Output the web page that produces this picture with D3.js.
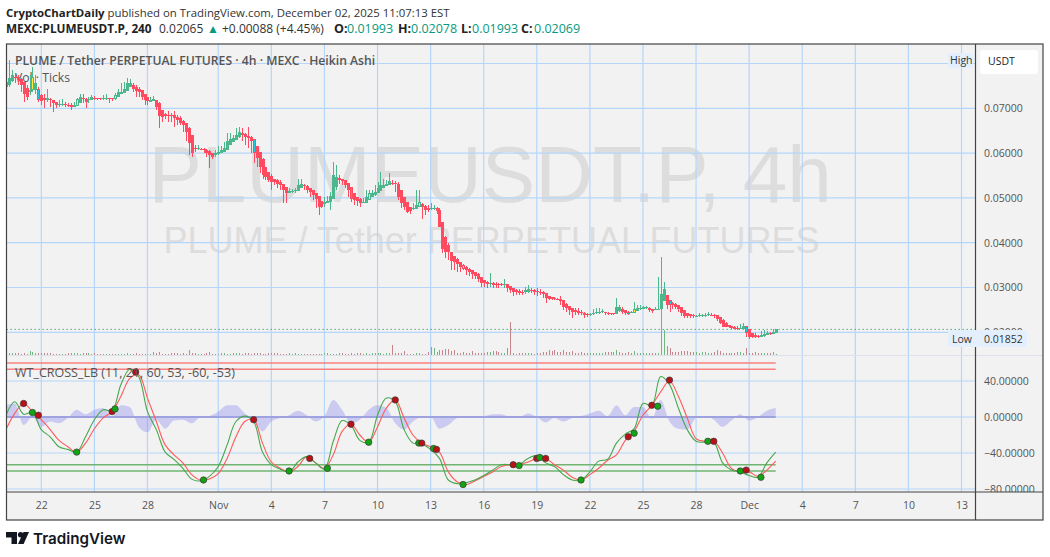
<!DOCTYPE html>
<html>
<head>
<meta charset="utf-8">
<title>PLUMEUSDT.P 4h</title>
<script src="https://cdn.jsdelivr.net/npm/d3@7"></script>
<style>
    body { margin: 0; background: #fff; }
    text { font-family: "Open Sans", sans-serif; }
    .axis text { font-size: 10.5px; fill: #555; font-family: "Open Sans", sans-serif; }
    .axis path { display: none; }
</style>
</head>
<body>
<div id="chart"></div>
<script>
// prices are in 1/1000 USDT, one entry per 4h Heikin Ashi bar, first bar 2025-10-20 00:00 UTC
const opens = [
    74.8,75.3,76.0,77.0,76.9,76.5,75.9,74.6,73.6,74.1,74.0,74.4,73.0,72.3,71.9,72.1,71.9,71.5,70.7,70.7,
    70.9,70.8,70.7,70.4,70.5,71.2,72.3,72.1,71.8,71.9,72.3,72.3,72.3,72.2,72.3,72.4,72.2,72.0,72.5,73.1,
    73.4,73.9,74.8,75.2,74.8,74.4,74.0,73.3,72.5,71.5,71.6,71.8,71.1,69.6,68.8,68.6,68.5,68.4,68.1,67.8,
    67.2,66.8,65.7,64.0,61.2,60.9,61.0,60.9,60.8,60.4,60.0,59.5,59.7,60.0,60.3,60.8,61.7,62.4,62.9,63.5,
    64.5,64.3,63.9,63.6,63.2,61.6,60.2,58.6,56.8,55.7,54.9,54.2,53.9,53.5,53.2,52.4,51.2,51.4,51.5,51.6,
    52.2,52.8,52.7,52.2,51.8,51.2,50.4,49.2,48.6,48.8,49.1,49.7,52.4,54.4,54.2,54.0,53.4,52.5,51.1,50.3,
    49.8,48.8,48.9,49.5,50.3,50.7,51.0,51.6,52.2,52.6,52.9,53.4,53.3,53.2,51.7,50.3,49.1,48.0,47.5,47.6,
    48.0,48.6,48.3,47.8,47.6,47.7,47.8,47.3,44.7,41.3,39.5,38.0,37.0,36.3,35.8,35.1,34.6,34.2,33.8,33.4,
    33.0,32.4,31.6,31.2,30.8,30.9,30.8,30.7,30.7,30.6,30.7,30.3,29.9,29.4,29.2,29.0,28.9,29.1,29.4,29.4,
    29.2,29.1,29.0,28.8,28.2,27.8,27.6,27.5,27.4,27.1,26.4,25.9,25.4,25.0,24.8,24.6,24.4,24.1,24.0,24.0,
    24.2,24.4,24.5,24.6,24.4,24.3,24.2,24.0,24.8,25.2,25.0,24.6,24.2,24.4,24.8,25.1,25.3,25.4,25.5,25.3,
    25.0,25.0,25.1,27.0,28.3,27.2,26.6,26.4,26.0,25.6,24.9,24.3,24.0,23.8,23.6,23.6,23.7,23.7,23.8,23.9,
    23.9,23.8,23.4,22.8,22.0,21.6,21.3,21.2,21.0,20.7,20.8,21.4,20.7,19.8,19.4,19.2,19.0,19.1,19.4,19.8,
    19.7,19.93
];
const closes = [
    75.9,76.7,77.4,76.7,76.3,75.2,73.3,72.6,74.1,76.9,75.6,71.8,71.7,71.8,72.2,71.8,71.1,70.7,70.9,70.9,
    70.7,70.7,70.2,70.7,72.0,72.6,72.0,71.5,72.0,72.6,72.2,72.2,72.1,72.4,72.4,72.0,72.0,73.0,73.7,73.7,
    74.4,75.6,75.6,74.4,73.9,73.7,72.6,71.8,71.7,71.8,72.0,70.4,68.2,68.0,68.2,68.4,68.2,67.9,67.4,66.7,
    66.3,64.8,62.2,60.1,61.1,61.1,60.9,60.6,60.1,59.6,59.1,60.0,60.3,60.7,61.1,62.6,63.1,63.3,64.1,64.8,
    64.1,63.5,63.3,62.6,60.0,58.9,57.0,55.1,54.7,54.1,53.6,53.6,53.2,52.9,51.7,51.1,51.6,51.6,51.7,52.9,
    53.1,52.6,51.7,51.4,50.6,49.7,48.0,48.0,49.1,49.4,50.4,55.1,54.7,54.1,53.8,52.9,51.7,49.7,49.5,49.4,
    48.9,49.0,50.1,51.0,51.0,51.4,52.1,52.9,52.9,53.1,53.8,53.1,53.1,50.1,48.8,47.9,46.9,47.1,47.7,48.4,
    49.1,48.0,47.3,47.4,47.8,47.8,47.1,43.5,38.5,38.0,37.9,36.0,35.6,35.3,34.5,34.1,33.8,33.5,33.0,32.6,
    31.8,30.9,30.9,30.8,31.0,30.6,30.6,30.6,30.6,30.8,29.8,29.4,29.0,28.9,28.8,28.9,29.4,29.6,29.3,29.0,
    29.0,28.9,28.6,27.6,27.5,27.5,27.4,27.3,26.9,25.7,25.4,25.0,24.6,24.5,24.4,24.2,23.9,23.9,24.1,24.4,
    24.6,24.6,24.7,24.2,24.1,24.0,24.0,25.6,25.6,24.6,24.2,24.0,24.5,25.3,25.4,25.5,25.6,25.7,25.0,24.7,
    25.1,25.2,28.5,29.6,26.1,26.0,26.1,25.7,25.1,24.2,23.7,23.7,23.6,23.6,23.7,23.8,23.8,23.9,24.0,23.8,
    23.6,23.0,22.1,21.2,21.2,21.1,21.0,20.8,20.7,21.0,21.3,19.9,18.9,19.0,19.0,19.0,19.3,19.7,19.9,19.7,
    20.0,20.69
];
const highs = [
    76.7,80.8,78.5,77.8,77.4,76.7,75.9,75.2,77.4,79.3,77.4,74.8,73.3,73.3,74.4,72.2,71.8,71.5,71.8,72.0,
    71.5,71.1,71.1,71.5,72.2,73.3,73.3,72.2,72.6,73.0,72.7,72.4,72.4,73.0,73.1,72.4,72.2,73.5,74.4,75.6,
    75.9,76.7,76.5,75.6,75.2,74.8,73.7,73.0,72.6,72.6,72.7,71.8,71.5,69.3,68.9,69.3,69.0,69.3,68.5,68.2,
    67.4,66.7,65.9,62.6,61.8,61.8,61.1,61.1,60.9,60.6,60.1,60.7,61.5,61.5,62.4,64.4,64.4,64.1,65.6,65.9,
    65.6,64.4,65.9,63.8,62.2,61.1,58.9,58.8,55.5,55.1,55.3,54.3,54.3,54.0,52.9,52.1,52.1,52.0,52.3,54.3,
    54.3,53.2,52.9,52.1,51.4,51.0,49.9,48.8,50.1,50.4,51.4,58.1,57.3,55.1,54.3,54.0,52.9,52.1,51.0,50.1,
    49.9,49.9,51.7,51.7,51.7,52.9,53.6,55.8,54.3,54.0,55.5,54.0,53.8,53.6,51.7,49.9,48.0,48.0,48.8,51.7,
    51.7,48.8,48.4,48.4,48.9,48.4,47.9,47.7,44.7,41.4,39.9,37.6,36.9,36.5,35.4,35.3,34.7,34.3,33.9,33.5,
    33.2,32.0,31.7,31.5,33.2,31.3,31.3,30.9,31.1,32.0,30.6,30.4,29.8,29.6,29.6,29.4,30.2,30.6,29.8,29.6,
    29.8,29.6,29.3,28.7,28.0,27.8,27.8,27.7,28.0,26.9,26.5,25.9,25.4,25.4,25.4,25.0,24.6,24.4,24.4,25.1,
    25.4,25.4,25.1,24.6,24.5,24.4,24.4,27.6,26.1,25.6,25.0,24.8,24.7,26.8,26.1,26.1,25.9,25.9,25.7,25.3,
    25.6,32.4,36.9,31.3,28.1,27.2,26.8,26.5,26.1,25.7,24.8,24.4,24.1,24.1,23.9,24.4,24.1,24.4,24.5,24.2,
    24.1,23.9,23.5,22.9,22.2,21.6,21.4,21.3,21.3,21.9,22.0,21.4,20.7,19.9,19.8,19.4,20.2,20.5,20.2,20.1,
    20.7,20.78
];
const lows = [
    74.8,74.8,75.9,75.6,75.2,73.7,71.5,71.8,73.0,73.7,73.3,71.5,70.7,70.0,71.5,70.4,69.2,70.0,70.4,70.5,
    70.4,70.4,69.6,70.4,70.5,71.8,71.1,70.0,71.1,71.8,71.8,71.8,71.8,71.8,71.8,71.1,71.7,71.8,73.0,73.3,
    73.7,74.4,74.7,73.7,72.6,72.6,71.8,70.7,70.7,71.5,71.6,69.6,65.6,67.0,67.6,67.0,67.0,65.9,66.3,66.3,
    64.8,62.6,59.6,59.2,60.3,60.6,60.6,60.0,59.2,56.6,58.6,59.1,59.6,60.0,60.3,61.5,62.2,62.6,62.9,63.3,
    62.6,61.8,61.1,60.0,57.7,57.0,55.5,54.3,54.0,53.6,51.7,52.9,52.1,51.7,48.8,48.9,51.0,51.1,51.0,51.7,
    52.1,51.7,51.0,50.3,49.5,47.7,46.2,47.7,48.0,48.8,47.3,49.9,51.7,53.1,52.9,52.1,50.3,49.1,48.4,48.2,
    48.0,48.8,48.9,49.5,50.6,50.4,51.0,51.9,52.1,52.6,52.9,52.9,51.4,49.5,47.7,47.3,46.7,46.5,47.3,47.7,
    48.0,45.4,46.2,46.9,47.3,47.3,46.5,43.5,37.6,36.5,36.2,33.9,33.9,33.5,33.5,33.8,32.8,32.6,32.0,32.0,
    31.3,30.2,30.2,30.0,30.2,30.0,30.0,29.8,30.4,30.0,29.0,28.7,28.1,28.3,28.3,28.3,28.6,28.7,28.8,28.3,
    28.1,28.3,27.6,26.5,27.1,27.2,27.1,27.1,26.1,25.0,24.6,23.9,23.1,23.9,23.9,23.9,23.1,23.5,23.7,23.8,
    24.0,24.0,24.2,23.9,23.8,23.8,23.8,24.1,24.5,24.1,23.9,23.8,24.2,24.5,24.8,25.0,25.1,25.1,24.5,24.4,
    25.0,25.0,25.0,27.2,25.1,24.6,25.3,25.1,24.6,23.6,23.3,23.3,23.2,23.3,23.5,23.5,23.5,23.5,23.6,23.6,
    23.3,22.6,21.8,21.1,21.1,20.9,20.7,20.7,20.5,20.7,20.8,18.9,18.52,18.7,18.8,18.7,19.0,19.0,19.5,19.5,
    19.6,19.93
];
// tick counts in thousands, same bars
const volumes = [
    1,2,2,2,2,1,2,1,4,3,2,2,2,2,2,2,1,1,1,1,1,2,2,2,2,1,2,2,2,1,2,1,1,1,1,1,1,1,1,1,
    1,2,1,1,2,1,1,1,1,1,3,2,3,1,1,1,2,2,2,1,2,1,5,2,2,1,1,1,2,3,1,1,1,2,2,1,1,2,2,2,
    1,2,2,1,2,2,2,1,1,2,2,2,2,1,1,1,2,1,2,1,1,1,1,1,1,1,1,1,2,2,1,1,1,2,2,1,1,2,1,2,
    2,1,2,1,2,2,2,2,1,2,2,10,2,2,2,4,1,1,1,2,2,1,1,3,8,7,3,5,5,6,6,4,5,2,2,3,2,2,4,2,
    2,2,2,3,3,4,4,3,2,2,7,33,2,1,2,2,2,2,2,1,2,2,3,3,5,4,5,3,3,5,3,3,4,2,2,3,2,2,2,2,
    2,2,2,3,3,3,3,5,3,2,2,3,2,4,2,2,2,2,2,2,2,2,45,25,9,7,3,3,3,4,4,4,3,3,3,2,3,3,2,2,
    3,5,4,2,2,2,2,2,3,3,2,7,2,2,3,2,2,2,2,2,3,1
];
const yellowBars = [9, 24, 37, 123, 140, 155, 213];
const cyanBars = [11, 84, 117, 132, 146, 211, 225, 251];
const priceTicks = [80, 70, 60, 50, 40, 30, 20];
const lastPrice = 20.65;

// WT_CROSS_LB values read every third bar
const wtStep = 3;
const wt1 = [
    2,17,3,5,-14,-22,-33,-36,-39,-22,-3,8,7,36,53,45,6,-14,-39,-47,-57,-69,
    -71,-66,-55,-31,-5,1,-5,-39,-53,-58,-61,-50,-44,-51,-58,-27,-4,-9,-26,-28,
    2,21,17,-14,-29,-30,-36,-46,-70,-74,-73,-70,-65,-59,-53,-53,-53,-46,-43,-51,
    -55,-64,-70,-70,-61,-49,-47,-29,-19,-13,15,13,45,36,10,-14,-27,-28,-28,-51,
    -59,-61,-65,-67,-51,-39
];
const wt2 = [
    -14,4,15,6,-3,-14,-26,-33,-39,-29,-13,-1,6,23,43,47,21,-5,-31,-42,-51,-64,
    -70,-69,-63,-46,-22,-5,-3,-29,-50,-57,-61,-55,-44,-51,-57,-42,-16,-8,-20,-28,
    -11,10,19,-1,-20,-29,-33,-39,-61,-72,-75,-71,-66,-61,-55,-53,-53,-50,-46,-46,
    -53,-59,-67,-70,-64,-57,-48,-42,-26,-16,2,13,28,40,23,-1,-24,-27,-27,-40,
    -57,-61,-61,-66,-59,-49
];
const wtDiff = [
    13,15,-9,0,-11,-5,-7,-1,8,3,8,10,0,13,11,-11,-17,-3,-13,-4,-3,-7,
    0,1,6,13,13,4,-3,-16,-5,-1,2,7,2,-5,1,19,8,-7,-3,8,
    13,10,-7,-14,-5,0,0,-13,-9,-1,1,1,1,3,3,0,0,4,0,-6,
    -1,-5,-1,1,4,7,1,13,2,11,11,-2,19,-5,-13,-14,-1,1,-3,-11,
    -4,3,-4,0,7,10
];
const crossBars = [6,9,11,24,36,37,44,67,84,96,103,109,117,123,132,140,141,145,146,155,172,174,180,181,183,195,211,213,219,221,225,238,240,249,251,256];
const crossValues = [15,5,2,-39,6,9,50,-70,-3,-60,-46,-57,-8,-28,19,-29,-29,-35,-36,-75,-53,-54,-46,-45,-46,-70,-22,-18,13,12,41,-27,-27,-60,-59,-67];
const crossUp = [0,1,0,1,0,1,0,1,0,1,0,1,0,1,0,1,0,1,0,1,0,1,0,1,0,1,0,1,0,1,0,1,0,1,0,1];
const wtLevels = [60, 53, -53, -60];
const wtTicks = [40, 0, -40, -80];

const firstBar = Date.UTC(2025, 9, 20);
const barMs = 4 * 3600 * 1000;
const timeTicks = ["2025-10-22","2025-10-25","2025-10-28","2025-11-01","2025-11-04","2025-11-07","2025-11-10","2025-11-13","2025-11-16","2025-11-19","2025-11-22","2025-11-25","2025-11-28","2025-12-01","2025-12-04","2025-12-07","2025-12-10","2025-12-13"];
const timeLabels = ["22","25","28","Nov","4","7","10","13","16","19","22","25","28","Dec","4","7","10","13"];

const frame = { left: 6.5, right: 1043, top: 44, bottom: 520, plotRight: 975.5, priceBottom: 355, wtTop: 356, wtBottom: 492 };
const green = "#4cb78c", red = "#ff4a60";

const svg = d3.select("#chart")
    .append("svg")
    .attr("width", 1050)
    .attr("height", 557);

const tickDates = timeTicks.map(d => new Date(d + "T00:00:00Z"));
const barDate = i => new Date(firstBar + i * barMs);

const x = d3.scaleUtc()
    .domain([tickDates[0], tickDates[tickDates.length - 1]])
    .range([41.3, 961.5]);
const yPrice = d3.scaleLinear().domain([20, 70]).range([332.3, 108.3]);
const yWt = d3.scaleLinear().domain([-80, 40]).range([489, 381]);
const yVol = d3.scaleLinear().domain([0, 45]).range([355, 310]);

svg.append("rect")
    .attr("x", frame.left).attr("y", frame.top)
    .attr("width", frame.right - frame.left).attr("height", frame.bottom - frame.top)
    .attr("fill", "#f2f2f2");

const defs = svg.append("defs");
defs.append("clipPath").attr("id", "price-clip").append("rect")
    .attr("x", frame.left).attr("y", frame.top)
    .attr("width", frame.plotRight - frame.left).attr("height", frame.priceBottom - frame.top);
defs.append("clipPath").attr("id", "wt-clip").append("rect")
    .attr("x", frame.left).attr("y", frame.wtTop)
    .attr("width", frame.plotRight - frame.left).attr("height", frame.wtBottom - frame.wtTop);
defs.append("clipPath").attr("id", "axis-clip").append("rect")
    .attr("x", frame.plotRight).attr("y", frame.top)
    .attr("width", frame.right - frame.plotRight).attr("height", frame.wtBottom - frame.top);

// watermark
svg.append("text")
    .attr("x", 490).attr("y", 202)
    .attr("text-anchor", "middle")
    .style("font-family", '"Liberation Sans", sans-serif')
    .style("font-size", "80px")
    .attr("fill", "#dddddd")
    .text("PLUMEUSDT.P, 4h");
svg.append("text")
    .attr("x", 491.5).attr("y", 253)
    .attr("text-anchor", "middle")
    .style("font-family", '"Liberation Sans", sans-serif')
    .style("font-size", "36px")
    .attr("fill", "#dddddd")
    .text("PLUME / Tether PERPETUAL FUTURES");

// grid
const gridColor = "#b5d6fb";
const grid = svg.append("g").attr("fill", "none").attr("stroke", gridColor).attr("stroke-width", 1.2);
grid.selectAll(".v1").data(tickDates).enter().append("line")
    .attr("x1", d => x(d)).attr("x2", d => x(d))
    .attr("y1", frame.top).attr("y2", frame.priceBottom);
grid.selectAll(".v2").data(tickDates).enter().append("line")
    .attr("x1", d => x(d)).attr("x2", d => x(d))
    .attr("y1", frame.wtTop).attr("y2", frame.wtBottom);
grid.selectAll(".h1").data(priceTicks).enter().append("line")
    .attr("x1", frame.left).attr("x2", frame.plotRight)
    .attr("y1", d => yPrice(d)).attr("y2", d => yPrice(d));
grid.selectAll(".h2").data(wtTicks).enter().append("line")
    .attr("x1", frame.left).attr("x2", frame.plotRight)
    .attr("y1", d => yWt(d)).attr("y2", d => yWt(d));

// legends sit under the candles
svg.append("text").attr("x", 15).attr("y", 65)
    .style("font-size", "12.2px").style("font-weight", 600).attr("fill", "#555")
    .text("PLUME / Tether PERPETUAL FUTURES · 4h · MEXC · Heikin Ashi");
svg.append("text").attr("x", 15).attr("y", 82)
    .style("font-size", "12.2px").attr("fill", "#555")
    .text("Vol · Ticks");

const bars = opens.map((o, i) => ({
    i, date: barDate(i), open: o, close: closes[i], high: highs[i], low: lows[i], vol: volumes[i], up: closes[i] > o
}));

const pricePane = svg.append("g").attr("clip-path", "url(#price-clip)");

pricePane.selectAll(".vol")
    .data(bars)
    .enter()
    .append("rect")
    .attr("class", "vol")
    .attr("x", d => Math.round(x(d.date)))
    .attr("width", 1)
    .attr("y", d => yVol(d.vol))
    .attr("height", d => yVol(0) - yVol(d.vol))
    .attr("fill", d => d.up ? "#6fb87f" : "#c58689")
    .attr("shape-rendering", "crispEdges");

pricePane.append("line")
    .attr("x1", frame.left).attr("x2", frame.plotRight)
    .attr("y1", yPrice(lastPrice)).attr("y2", yPrice(lastPrice))
    .attr("stroke", "#4cab82")
    .attr("stroke-dasharray", "1.5,2.5");

pricePane.selectAll(".wick")
    .data(bars)
    .enter()
    .append("rect")
    .attr("class", "wick")
    .attr("x", d => Math.round(x(d.date)))
    .attr("width", 1)
    .attr("y", d => yPrice(d.high))
    .attr("height", d => yPrice(d.low) - yPrice(d.high))
    .attr("fill", d => d.up ? green : red)
    .attr("shape-rendering", "crispEdges");

pricePane.selectAll(".body")
    .data(bars)
    .enter()
    .append("rect")
    .attr("class", "body")
    .attr("x", d => Math.round(x(d.date)) - 1)
    .attr("width", 3)
    .attr("y", d => yPrice(Math.max(d.open, d.close)))
    .attr("height", d => Math.max(1, Math.abs(yPrice(d.open) - yPrice(d.close))))
    .attr("fill", d => d.up ? green : red)
    .attr("shape-rendering", "crispEdges");

// a few candles carry a coloured fill
const marked = yellowBars.map(i => ({ bar: bars[i], fill: "#ffeb3b" }))
    .concat(cyanBars.map(i => ({ bar: bars[i], fill: "#26c6da" })));
pricePane.selectAll(".marked")
    .data(marked)
    .enter()
    .append("rect")
    .attr("class", "marked")
    .attr("x", d => Math.round(x(d.bar.date)))
    .attr("width", 1)
    .attr("y", d => yPrice(Math.max(d.bar.open, d.bar.close)) + 1)
    .attr("height", d => Math.max(1, Math.abs(yPrice(d.bar.open) - yPrice(d.bar.close)) - 2))
    .attr("fill", d => d.fill)
    .attr("shape-rendering", "crispEdges");

// WT pane
const wtPane = svg.append("g").attr("clip-path", "url(#wt-clip)");
const wtDate = k => barDate(k * wtStep);
const lineEnd = barDate(opens.length - 1);

wtPane.append("path")
    .datum(wtDiff)
    .attr("fill", "#7b7bf0")
    .attr("fill-opacity", 0.33)
    .attr("d", d3.area()
        .x((d, k) => x(wtDate(k)))
        .y0(yWt(0))
        .y1(d => yWt(d))
        .curve(d3.curveMonotoneX));

wtPane.append("line")
    .attr("x1", frame.left).attr("x2", x(lineEnd))
    .attr("y1", yWt(0)).attr("y2", yWt(0))
    .attr("stroke", "#9ea3df").attr("stroke-width", 1.8);

wtPane.selectAll(".level")
    .data(wtLevels)
    .enter()
    .append("line")
    .attr("class", "level")
    .attr("x1", frame.left).attr("x2", x(lineEnd))
    .attr("y1", d => yWt(d)).attr("y2", d => yWt(d))
    .attr("stroke", d => d > 0 ? "#f9807f" : "#6fb56f")
    .attr("stroke-width", 1.4);

svg.append("text").attr("x", 15).attr("y", 377)
    .style("font-size", "12.5px").attr("fill", "#555")
    .text("WT_CROSS_LB (11, 21, 60, 53, -60, -53)");

const wtLine = d3.line()
    .x((d, k) => x(wtDate(k)))
    .y(d => yWt(d))
    .curve(d3.curveCatmullRom);

wtPane.append("path").datum(wt2).attr("fill", "none").attr("stroke", "#ff5a5a").attr("stroke-width", 1.1).attr("d", wtLine);
wtPane.append("path").datum(wt1).attr("fill", "none").attr("stroke", "#45a84d").attr("stroke-width", 1.1).attr("d", wtLine);

wtPane.selectAll(".cross")
    .data(crossBars)
    .enter()
    .append("circle")
    .attr("class", "cross")
    .attr("cx", d => x(barDate(d)))
    .attr("cy", (d, i) => yWt(crossValues[i]))
    .attr("r", 3.2)
    .attr("fill", (d, i) => crossUp[i] ? "#12a512" : "#bb1017")
    .attr("stroke", "#3a3a3a")
    .attr("stroke-width", 0.7);

// axes
const axisCol = svg.append("g").attr("clip-path", "url(#axis-clip)");
axisCol.append("g")
    .attr("class", "axis")
    .attr("transform", `translate(${frame.plotRight},0)`)
    .call(d3.axisRight(yPrice)
        .tickValues(priceTicks.filter(d => d < 80))
        .tickSize(0)
        .tickPadding(8.5)
        .tickFormat(d => (d / 1000).toFixed(5)));
axisCol.append("g")
    .attr("class", "axis")
    .attr("transform", `translate(${frame.plotRight},0)`)
    .call(d3.axisRight(yWt)
        .tickValues(wtTicks)
        .tickSize(0)
        .tickPadding(8.5)
        .tickFormat(d => d3.format(".5f")(d).replace("-", "\u2212")));

svg.append("g")
    .attr("class", "axis")
    .attr("transform", `translate(0,${frame.wtBottom})`)
    .call(d3.axisBottom(x)
        .tickValues(tickDates)
        .tickSize(0)
        .tickPadding(9.5)
        .tickFormat((d, i) => timeLabels[i]));

// pane divider and frame
svg.append("line")
    .attr("x1", frame.left).attr("x2", frame.right)
    .attr("y1", 355.5).attr("y2", 355.5)
    .attr("stroke", "#dde1e9");
svg.append("rect")
    .attr("x", frame.left).attr("y", frame.top)
    .attr("width", frame.right - frame.left).attr("height", frame.bottom - frame.top)
    .attr("fill", "none").attr("stroke", "#444").attr("stroke-width", 1.2);
svg.append("line")
    .attr("x1", frame.plotRight).attr("x2", frame.plotRight)
    .attr("y1", frame.top).attr("y2", frame.bottom)
    .attr("stroke", "#444").attr("stroke-width", 1.2);
svg.append("line")
    .attr("x1", frame.left).attr("x2", frame.right)
    .attr("y1", frame.wtBottom).attr("y2", frame.wtBottom)
    .attr("stroke", "#444").attr("stroke-width", 1.2);

// price scale badges
svg.append("rect").attr("x", 980).attr("y", 50).attr("width", 58).attr("height", 24).attr("rx", 3).attr("fill", "#fff");
svg.append("text").attr("x", 988).attr("y", 65).style("font-size", "10.5px").attr("fill", "#222").text("USDT");

svg.append("rect").attr("x", 948).attr("y", 53).attr("width", 25).attr("height", 15).attr("rx", 2).attr("fill", "#e3effd");
svg.append("text").attr("x", 950).attr("y", 64).style("font-size", "10.5px").attr("fill", "#333").text("High");

svg.append("rect").attr("x", 948).attr("y", 330).attr("width", 79).attr("height", 17).attr("rx", 3).attr("fill", "#e3effd");
svg.append("text").attr("x", 952).attr("y", 342.5).style("font-size", "10.5px").attr("fill", "#333").text("Low");
svg.append("text").attr("x", 984).attr("y", 342.5).style("font-size", "10.5px").attr("fill", "#333").text("0.01852");

// header
const line1 = svg.append("text").attr("x", 6).attr("y", 17).style("font-size", "11.4px").attr("fill", "#333");
line1.append("tspan").style("font-weight", 700).attr("fill", "#222").text("CryptoChartDaily");
line1.append("tspan").text(" published on TradingView.com, December 02, 2025 11:07:13 EST");

const teal = "#089981";
const line2 = svg.append("text").attr("y", 33).style("font-size", "12.5px").attr("fill", "#333");
line2.append("tspan").attr("x", 6).style("font-size", "11.8px").style("font-weight", 700).attr("fill", "#222").text("MEXC:PLUMEUSDT.P, 240");
line2.append("tspan").attr("x", 159).style("font-size", "12px").text("0.02065");
line2.append("tspan").attr("x", 207).style("font-size", "12px").attr("fill", teal).text("▲");
line2.append("tspan").attr("x", 222).style("font-size", "12px").text("+0.00088 (+4.45%)");
[["O:", "0.01993", 334, 347], ["H:", "0.02078", 398, 411], ["L:", "0.01993", 461, 472], ["C:", "0.02069", 521, 534]].forEach(([k, v, kx, vx]) => {
    line2.append("tspan").attr("x", kx).style("font-weight", 700).attr("fill", "#222").text(k);
    line2.append("tspan").attr("x", vx).attr("fill", teal).text(v);
});

// TradingView logo
const logo = svg.append("g").attr("fill", "#131722");
logo.append("path").attr("d", "M6 532H17V544H11.5V537.5H6Z");
logo.append("circle").attr("cx", 20.6).attr("cy", 534.8).attr("r", 2.7);
logo.append("path").attr("d", "M23.5 532H29L23.6 544H18Z");
svg.append("text").attr("x", 33).attr("y", 543.5)
    .style("font-family", "Inter, sans-serif")
    .style("font-size", "15.2px")
    .style("font-weight", 600)
    .attr("fill", "#131722")
    .text("TradingView");
</script>
</body>
</html>
